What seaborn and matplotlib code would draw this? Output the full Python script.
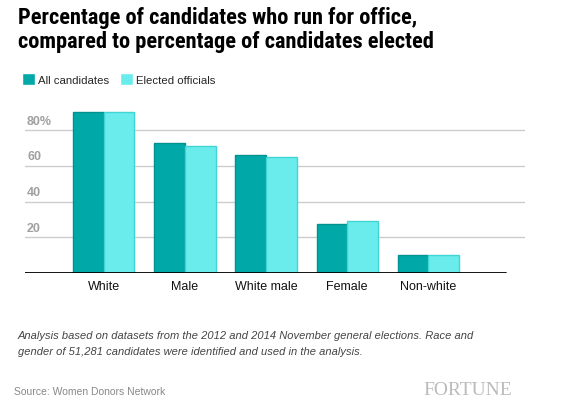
import pandas as pd
import matplotlib
matplotlib.use('Agg')
import matplotlib.pyplot as plt
import seaborn as sns

groups = ['White', 'Male', 'White male', 'Female', 'Non-white']
all_candidates = [90.1, 72.9, 66.1, 27.5, 10.1]
elected_officials = [90.1, 71.0, 64.8, 29.0, 10.1]
series_names = ['All candidates', 'Elected officials']
grid_values = [20, 40, 60, 80]
grid_labels = ['20', '40', '60', '80%']

fill_colors = ['#00a9a8', '#6becec']
edge_colors = ['#00928f', '#40d4d4']

df = pd.DataFrame({
    'group': groups * 2,
    'series': [series_names[0]] * len(groups) + [series_names[1]] * len(groups),
    'value': all_candidates + elected_officials,
})

sns.set_theme(style='white')
plt.rcParams['font.family'] = ['Liberation Sans', 'DejaVu Sans']

fig = plt.figure(figsize=(5.62, 4.10), dpi=100)
ax = fig.add_axes([25 / 562, 1 - 274 / 410, 500 / 562, 174 / 410])

sns.barplot(data=df, x='group', y='value', hue='series', order=groups,
            hue_order=series_names, palette=fill_colors, width=0.757,
            saturation=1, linewidth=1, ax=ax)
for container, ec in zip(ax.containers, edge_colors):
    for patch in container:
        patch.set_edgecolor(ec)

ax.set_xlim(-0.97, 5.19)
ax.set_ylim(0, 97.5)
for sp in ax.spines.values():
    sp.set_visible(False)

for v, lab in zip(grid_values, grid_labels):
    ax.axhline(v, color='#cccccc', lw=1, zorder=0)
    ax.text(0.004, v + 2.0, lab, transform=ax.get_yaxis_transform(),
            fontsize=9, fontweight='bold', color='#a0a0a0', va='bottom', ha='left')
ax.axhline(0, xmin=0, xmax=(4.95 + 0.97) / 6.16, color='black', lw=1.3, zorder=3)

ax.set_yticks([])
ax.set_xlabel('')
ax.set_ylabel('')
ax.tick_params(axis='x', length=0, pad=5, labelsize=9, labelcolor='#111111')

handles, labels = ax.get_legend_handles_labels()
ax.legend_.remove()
fig.legend(handles, labels, loc='center left', bbox_to_anchor=(17 / 562, 1 - 80 / 410),
           ncol=2, frameon=False, fontsize=8.2, handlelength=1.15, handleheight=1.15,
           handletextpad=0.25, columnspacing=1.0, borderaxespad=0)

fig.text(18 / 562, 1 - 7 / 410,
         'Percentage of candidates who run for office,\ncompared to percentage of candidates elected',
         family=['Roboto Condensed', 'Liberation Sans'], fontweight='bold', fontsize=16.1,
         color='black', va='top', ha='left', linespacing=1.1)

fig.text(18 / 562, 1 - 344 / 410,
         'Analysis based on datasets from the 2012 and 2014 November general elections. Race and\n'
         'gender of 51,281 candidates were identified and used in the analysis.',
         fontsize=8, style='italic', color='#444444', va='center', ha='left', linespacing=1.65)
fig.text(14 / 562, 1 - 392 / 410, 'Source: Women Donors Network',
         fontsize=7.5, color='#888888', va='center', ha='left')
fig.text(512 / 562, 1 - 391 / 410, 'FORTUNE', family=['Liberation Serif', 'DejaVu Serif'],
         fontsize=14, color='#bbbbbb', va='center', ha='right')

fig.savefig('out.png', dpi=100)
